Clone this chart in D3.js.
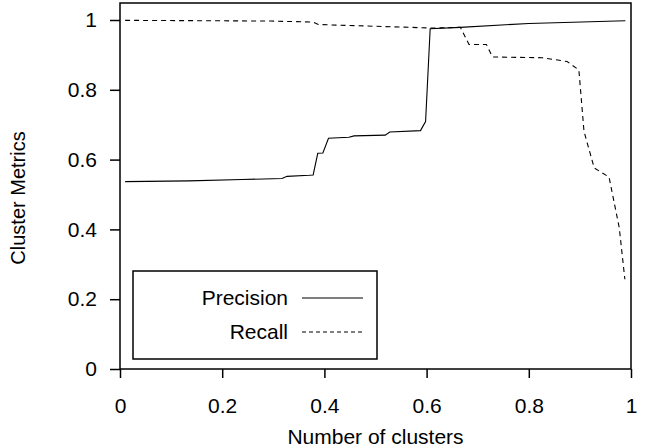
<!DOCTYPE html>
<html>
<head>
<meta charset="utf-8">
<script src="https://cdn.jsdelivr.net/npm/d3@7"></script>
<style>
  html, body { margin: 0; padding: 0; background: #fff; }
  svg text { font-family: "Liberation Sans", Arial, Helvetica, sans-serif; fill: #000; }
</style>
</head>
<body>
<svg id="chart" width="648" height="448"></svg>
<script>
// ---- data ----
const precisionX = [0.01, 0.135, 0.239, 0.317, 0.327, 0.37, 0.378, 0.387, 0.397, 0.408, 0.448, 0.458, 0.519, 0.528, 0.588, 0.598, 0.607, 0.666, 0.80, 0.989];
const precisionY = [0.537, 0.539, 0.543, 0.546, 0.552, 0.555, 0.556, 0.618, 0.619, 0.661, 0.664, 0.668, 0.670, 0.679, 0.683, 0.709, 0.975, 0.979, 0.990, 0.998];

const recallX = [0.01, 0.295, 0.378, 0.388, 0.611, 0.666, 0.683, 0.717, 0.729, 0.826, 0.875, 0.898, 0.908, 0.928, 0.957, 0.977, 0.988];
const recallY = [0.999, 0.997, 0.994, 0.987, 0.977, 0.979, 0.930, 0.930, 0.894, 0.892, 0.881, 0.857, 0.681, 0.576, 0.550, 0.405, 0.257];

const xTicks = [0, 0.2, 0.4, 0.6, 0.8, 1];
const yTicks = [0, 0.2, 0.4, 0.6, 0.8, 1];
const xTickLabels = ["0", "0.2", "0.4", "0.6", "0.8", "1"];
const yTickLabels = ["0", "0.2", "0.4", "0.6", "0.8", "1"];
const seriesNames = ["Precision", "Recall"];

// ---- layout ----
const svg = d3.select("#chart");
const plotLeft = 120, plotRight = 631, plotTop = 3, plotBottom = 369;
const x = d3.scaleLinear().domain([0, 1]).range([plotLeft, plotRight]);
const y = d3.scaleLinear().domain([0, 1]).range([plotBottom, 20]);
const fontSize = 21;

// frame
svg.append("rect")
  .attr("x", plotLeft).attr("y", plotTop)
  .attr("width", plotRight - plotLeft).attr("height", plotBottom - plotTop)
  .attr("fill", "none").attr("stroke", "#000").attr("stroke-width", 1.5);

// x axis
const xAxis = d3.axisBottom(x).tickValues(xTicks)
  .tickFormat((d, i) => xTickLabels[i]).tickSize(9).tickPadding(20);
const gx = svg.append("g").attr("transform", `translate(0,${plotBottom})`).call(xAxis);
gx.select(".domain").remove();
gx.selectAll(".tick line").attr("stroke", "#000").attr("stroke-width", 1.5);
gx.selectAll(".tick text").attr("font-size", fontSize).style("font-family", "Liberation Sans, Arial, sans-serif");

// y axis
const yAxis = d3.axisLeft(y).tickValues(yTicks)
  .tickFormat((d, i) => yTickLabels[i]).tickSize(10).tickPadding(13);
const gy = svg.append("g").attr("transform", `translate(${plotLeft},0)`).call(yAxis);
gy.select(".domain").remove();
gy.selectAll(".tick line").attr("stroke", "#000").attr("stroke-width", 1.5);
gy.selectAll(".tick text").attr("font-size", fontSize).style("font-family", "Liberation Sans, Arial, sans-serif");

// axis titles
svg.append("text")
  .attr("x", (plotLeft + plotRight) / 2).attr("y", 444)
  .attr("text-anchor", "middle").attr("font-size", fontSize)
  .text("Number of clusters");
svg.append("text")
  .attr("transform", `translate(25,${(plotTop + plotBottom) / 2 + 12}) rotate(-90)`)
  .attr("text-anchor", "middle").attr("font-size", 20)
  .text("Cluster Metrics");

// lines
const line = d3.line().x(d => x(d[0])).y(d => y(d[1]));
const precData = precisionX.map((v, i) => [v, precisionY[i]]);
const recData = recallX.map((v, i) => [v, recallY[i]]);

svg.append("path").datum(precData)
  .attr("d", line).attr("fill", "none").attr("stroke", "#000").attr("stroke-width", 1.1);
svg.append("path").datum(recData)
  .attr("d", line).attr("fill", "none").attr("stroke", "#000").attr("stroke-width", 1.1)
  .attr("stroke-dasharray", "5,4");

// legend
const lg = svg.append("g");
lg.append("rect").attr("x", 133).attr("y", 271).attr("width", 244).attr("height", 88)
  .attr("fill", "#fff").attr("stroke", "#000").attr("stroke-width", 1.5);
const rowsY = [298, 332];
seriesNames.forEach((name, i) => {
  lg.append("text").attr("x", 288).attr("y", rowsY[i]).attr("dy", "0.35em")
    .attr("text-anchor", "end").attr("font-size", fontSize).text(name);
  lg.append("line").attr("x1", 302).attr("x2", 363).attr("y1", rowsY[i]).attr("y2", rowsY[i])
    .attr("stroke", "#000").attr("stroke-width", 1.1)
    .attr("stroke-dasharray", i === 1 ? "4,3" : null);
});
</script>
</body>
</html>
